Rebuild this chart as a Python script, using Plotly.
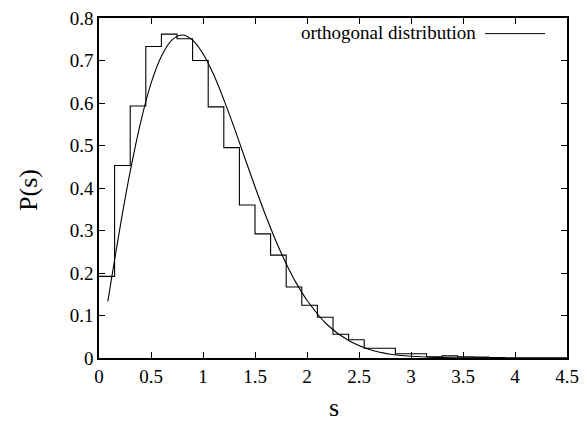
import plotly.graph_objects as go

# Histogram of nearest-neighbour spacings (bin width 0.15)
bin_edges = [round(0.15 * i, 2) for i in range(31)]
bin_heights = [0.192, 0.453, 0.593, 0.733, 0.762, 0.751, 0.700, 0.591, 0.495, 0.360,
               0.292, 0.242, 0.167, 0.124, 0.096, 0.056, 0.043, 0.023, 0.023, 0.010,
               0.010, 0.003, 0.005, 0.003, 0.002, 0.001, 0.0, 0.0, 0.0, 0.0]

# Orthogonal distribution curve
curve_s = [0.085, 0.2, 0.3, 0.4, 0.5, 0.6, 0.7, 0.8, 0.9, 1.0, 1.1, 1.2, 1.3, 1.4, 1.5,
           1.6, 1.7, 1.8, 1.9, 2.0, 2.2, 2.4, 2.6, 2.8, 3.0, 3.3, 3.6, 4.0, 4.5]
curve_p = [0.133, 0.304, 0.439, 0.554, 0.646, 0.710, 0.748, 0.760, 0.748, 0.716, 0.668,
           0.608, 0.542, 0.472, 0.403, 0.337, 0.276, 0.222, 0.175, 0.136, 0.077, 0.041,
           0.020, 0.009, 0.004, 0.001, 0.0002, 0.0, 0.0]

x_ticks = [0, 0.5, 1, 1.5, 2, 2.5, 3, 3.5, 4, 4.5]
y_ticks = [0, 0.1, 0.2, 0.3, 0.4, 0.5, 0.6, 0.7, 0.8]
legend_label = "orthogonal distribution"

FONT = "Times New Roman"

fig = go.Figure()
fig.add_trace(go.Scatter(x=bin_edges[:-1] + [bin_edges[-1]],
                         y=bin_heights + [bin_heights[-1]],
                         mode="lines", line=dict(color="black", width=1.1, shape="hv"),
                         showlegend=False, hoverinfo="skip"))
fig.add_trace(go.Scatter(x=curve_s, y=curve_p, mode="lines",
                         line=dict(color="black", width=1.1, shape="spline", smoothing=1.0),
                         showlegend=False))

axis_common = dict(showgrid=False, zeroline=False, showline=True, linecolor="black",
                   linewidth=1.5, mirror="ticks", ticks="inside", ticklen=6,
                   tickcolor="black", tickwidth=1, ticklabeloverflow="allow",
                   tickfont=dict(family=FONT, size=19, color="black"))

fig.update_xaxes(range=[0, 4.5], tickvals=x_ticks, ticktext=[f"{v:g}" for v in x_ticks],
                 **axis_common)
fig.update_yaxes(range=[0, 0.8], tickvals=y_ticks, ticktext=[f"{v:g}" for v in y_ticks],
                 **axis_common)

fig.update_layout(
    width=587, height=426,
    margin=dict(l=99, r=15, t=8, b=68),
    plot_bgcolor="white", paper_bgcolor="white",
    font=dict(family=FONT, color="black"),
    showlegend=False,
    annotations=[
        dict(text="P(s)", xref="paper", yref="paper", x=-0.152, y=0.494, showarrow=False,
             xanchor="center", yanchor="middle", textangle=-90,
             font=dict(family=FONT, size=26, color="black")),
        dict(text="s", xref="paper", yref="paper", x=0.503, y=-0.146,
             xanchor="center", yanchor="middle",
             showarrow=False, font=dict(family=FONT, size=26, color="black")),
        dict(text=legend_label, xref="paper", yref="paper", x=0.810, y=0.956,
             xanchor="right", yanchor="middle", showarrow=False,
             font=dict(family=FONT, size=19, color="black")),
    ],
    shapes=[dict(type="line", xref="paper", yref="paper", x0=0.825, x1=0.953,
                 y0=0.954, y1=0.954, line=dict(color="black", width=1))],
)

fig.write_html("out.html", config={"displayModeBar": False},
               post_script="document.body.style.margin='0';document.body.style.padding='0';")
